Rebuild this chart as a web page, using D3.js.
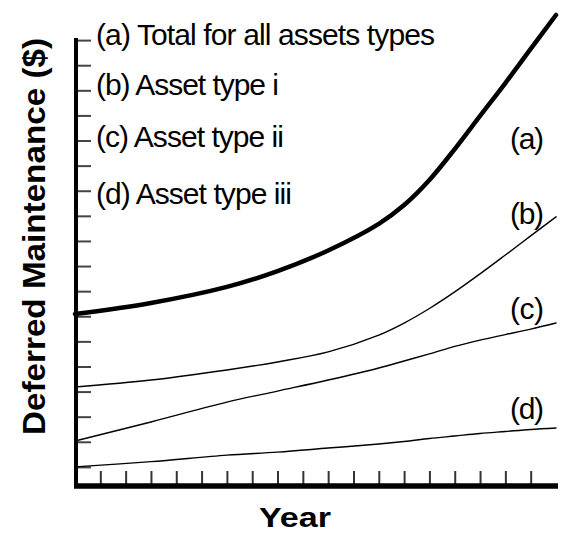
<!DOCTYPE html>
<html>
<head>
<meta charset="utf-8">
<script src="https://cdn.jsdelivr.net/npm/d3@7"></script>
<style>
  html, body { margin: 0; padding: 0; background: #fff; }
  svg { display: block; }
</style>
</head>
<body>
<svg id="chart" width="561" height="533"></svg>
<script>
// ---- data (arbitrary units) ----
const years   = [0, 3, 6, 8, 10, 12, 13, 14, 15, 16, 17, 18, 19];
const seriesA = [7.09, 7.53, 8.17, 8.80, 9.62, 10.68, 11.43, 12.43, 13.66, 14.98, 16.29, 17.65, 19.0];  // (a) Total
const seriesB = [4.18, 4.46, 4.86, 5.18, 5.58, 6.25, 6.73, 7.31, 7.97, 8.69, 9.44, 10.20, 10.96];       // (b) type i
const seriesC = [2.03, 2.79, 3.58, 4.02, 4.46, 4.94, 5.22, 5.50, 5.80, 6.05, 6.27, 6.49, 6.73];         // (c) type ii
const seriesD = [1.00, 1.21, 1.47, 1.59, 1.75, 1.91, 2.01, 2.13, 2.23, 2.33, 2.41, 2.49, 2.55];         // (d) type iii
const seriesIds = ["(a)", "(b)", "(c)", "(d)"];
const legendLabels = ["(a) Total for all assets types", "(b) Asset type i", "(c) Asset type ii", "(d) Asset type iii"];
const xTickValues = [1, 2, 3, 4, 5, 6, 7, 8, 9, 10, 11, 12, 13, 14, 15, 16, 17, 18];
const yTickValues = [1, 2, 3, 4, 5, 6, 7, 8, 9, 10, 11, 12, 13, 14, 15, 16, 17, 18];
const xTitle = "Year";
const yTitle = "Deferred Maintenance ($)";

const svg = d3.select("#chart");
const x = d3.scaleLinear().domain([0, 19]).range([75, 556]);
const y = d3.scaleLinear().domain([0, 19]).range([492, 15]);

// ticks (inward, no labels)
const gx = svg.append("g").attr("transform", "translate(0,485)")
  .call(d3.axisBottom(x).tickValues(xTickValues).tickSize(-14).tickFormat(""));
gx.select(".domain").remove();
gx.selectAll(".tick line").attr("stroke", "#333").attr("stroke-width", 2);

const gy = svg.append("g").attr("transform", "translate(77,0)")
  .call(d3.axisLeft(y).tickValues(yTickValues).tickSize(-14).tickFormat(""));
gy.select(".domain").remove();
gy.selectAll(".tick line").attr("stroke", "#444").attr("stroke-width", 2);

// axis lines
svg.append("line").attr("x1", 76).attr("x2", 76).attr("y1", 38).attr("y2", 488)
  .attr("stroke", "#000").attr("stroke-width", 4);
svg.append("line").attr("x1", 74).attr("x2", 558).attr("y1", 486).attr("y2", 486)
  .attr("stroke", "#000").attr("stroke-width", 5.5);

// series
const allSeries = [seriesA, seriesB, seriesC, seriesD];
const widths = [4.5, 1.4, 1.4, 1.4];
const line = d3.line().x(d => x(d[0])).y(d => y(d[1])).curve(d3.curveCatmullRom.alpha(0.5));
allSeries.forEach((s, i) => {
  svg.append("path")
    .datum(years.map((yr, j) => [yr, s[j]]))
    .attr("d", line)
    .attr("fill", "none")
    .attr("stroke", "#000")
    .attr("stroke-width", widths[i])
    .attr("stroke-linecap", "round");
});

const font = "'Liberation Sans', Arial, sans-serif";

// legend text (top-left)
const legendBaselines = [44.5, 95, 147, 204];
const legendWidths = [339, 183, 188, 196];
legendLabels.forEach((t, i) => {
  svg.append("text")
    .attr("x", 96).attr("y", legendBaselines[i])
    .attr("font-family", font).attr("font-size", 30)
    .attr("textLength", legendWidths[i]).attr("lengthAdjust", "spacing")
    .attr("fill", "#000")
    .text(t);
});

// series id labels (right)
const idBaselines = [149, 224, 319, 419];
seriesIds.forEach((t, i) => {
  svg.append("text")
    .attr("x", 510).attr("y", idBaselines[i])
    .attr("font-family", font).attr("font-size", 30)
    .attr("textLength", 34).attr("lengthAdjust", "spacing")
    .attr("fill", "#000")
    .text(t);
});

// axis titles
svg.append("text")
  .attr("x", 295).attr("y", 527)
  .attr("text-anchor", "middle")
  .attr("font-family", font)
  .attr("font-weight", "bold").attr("font-size", 28)
  .attr("textLength", 72).attr("lengthAdjust", "spacingAndGlyphs")
  .text(xTitle);

svg.append("text")
  .attr("transform", "translate(45,236.5) rotate(-90)")
  .attr("text-anchor", "middle")
  .attr("font-family", font)
  .attr("font-weight", "bold").attr("font-size", 31)
  .attr("textLength", 397).attr("lengthAdjust", "spacingAndGlyphs")
  .text(yTitle);
</script>
</body>
</html>
